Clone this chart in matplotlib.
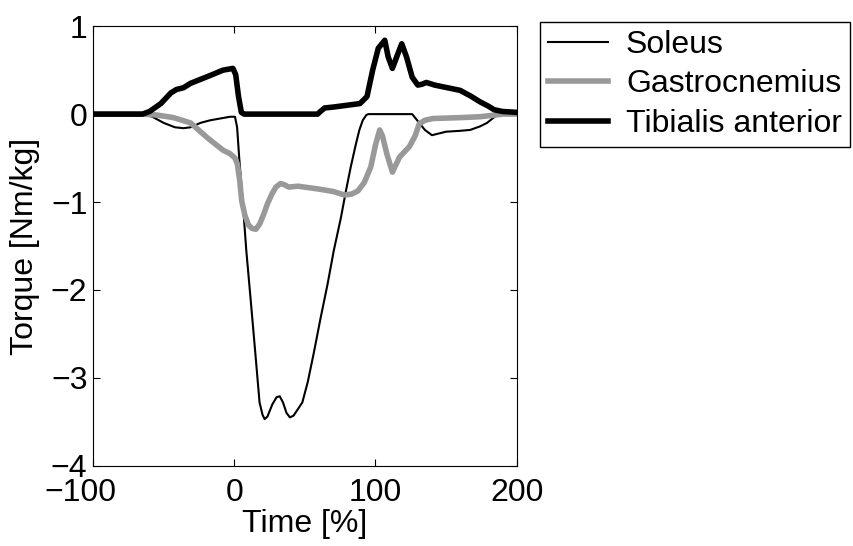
import matplotlib
matplotlib.use("Agg")
import matplotlib.pyplot as plt
import matplotlib.transforms as mtransforms

plt.rcParams["font.family"] = ["Liberation Sans", "DejaVu Sans"]
plt.rcParams["font.size"] = 23

# Soleus (thin black)
sol_t = [-100, -65, -58, -50, -42, -36, -31, -24, -17, -10, -3, 0.5, 2, 3.5, 5.9, 8.5, 11.6, 14.8,
         17.9, 20, 21.5, 23.5, 27, 30, 32.2, 34.5, 37, 39.4, 42, 48.2, 52, 56.4, 61, 66, 70.5, 75.5,
         79, 82.5, 86, 88.6, 91, 93.5, 95, 110, 126, 130, 135, 140, 150, 160, 167, 174, 179, 186, 190, 200]
sol_v = [0, 0, -0.03, -0.1, -0.15, -0.16, -0.15, -0.1, -0.07, -0.05, -0.03, -0.03, -0.15, -0.5, -0.98, -1.55, -2.11, -2.7,
         -3.28, -3.42, -3.47, -3.44, -3.3, -3.22, -3.21, -3.28, -3.4, -3.45, -3.43, -3.28, -3.05, -2.71, -2.33, -1.94, -1.55, -1.18,
         -0.88, -0.6, -0.35, -0.18, -0.07, -0.01, 0, 0, 0, -0.08, -0.18, -0.24, -0.2, -0.19, -0.18, -0.14, -0.1, -0.01, 0, 0]

# Gastrocnemius (grey)
gas_t = [-100, -65, -55, -43, -31, -19, -8, -3, 0.5, 2.2, 3.8, 5.3, 7.5, 10, 12.5, 15.3, 18, 20.8, 23.5, 26.6,
         29.5, 32.7, 35, 38.6, 45, 58.8, 70, 78, 83, 87.5, 92, 96.7, 100, 103, 105, 108, 112, 117, 124, 128, 131, 135,
         140.6, 160, 174, 185, 190, 200]
gas_v = [0, 0, -0.01, -0.04, -0.1, -0.27, -0.41, -0.45, -0.5, -0.57, -0.75, -0.99, -1.15, -1.26, -1.3, -1.31, -1.25, -1.14, -1.02, -0.91,
         -0.83, -0.79, -0.8, -0.83, -0.82, -0.85, -0.88, -0.92, -0.91, -0.875, -0.78, -0.6, -0.35, -0.18, -0.25, -0.45, -0.66, -0.49, -0.37, -0.25, -0.11, -0.07,
         -0.05, -0.04, -0.03, -0.01, 0, 0]

# Tibialis anterior (thick black)
ta_t = [-100, -65, -60, -52, -45, -41, -36, -31, -17, -8, -1, 1, 3, 5, 7, 59, 61, 64, 70, 89, 94, 98,
        102, 106.6, 109, 112, 115, 118.6, 122, 126, 130, 133, 136, 142, 160, 168, 174, 180, 184, 190, 200]
ta_v = [0, 0, 0.03, 0.12, 0.24, 0.28, 0.3, 0.35, 0.44, 0.5, 0.52, 0.45, 0.2, 0.02, 0, 0, 0.03, 0.07, 0.08, 0.12, 0.2, 0.5,
        0.75, 0.84, 0.65, 0.52, 0.65, 0.8, 0.65, 0.42, 0.33, 0.34, 0.36, 0.33, 0.27, 0.2, 0.14, 0.09, 0.05, 0.03, 0.02]

fig = plt.figure(figsize=(8.54, 5.46), dpi=100)
ax = fig.add_axes([0.109, 0.147, 0.496, 0.805])

ax.plot(sol_t, sol_v, color="black", lw=1.5, label="Soleus")
ax.plot(gas_t, gas_v, color="#999999", lw=4, label="Gastrocnemius")
ax.plot(ta_t, ta_v, color="black", lw=4, label="Tibialis anterior")

ax.set_xlim(-100, 200)
ax.set_ylim(-4, 1)
ax.set_xticks([-100, 0, 100, 200])
ax.set_yticks([-4, -3, -2, -1, 0, 1])
ax.tick_params(direction="in", top=True, right=True, length=5, width=0.8)
ax.tick_params(axis="x", pad=9)
ax.tick_params(axis="y", pad=4)
ax.set_xlabel("Time [%]")
ax.set_ylabel("Torque [Nm/kg]")
ax.xaxis.set_label_coords(0.5, -0.098)
ax.yaxis.set_label_coords(-0.125, 0.5)

# minus sign hangs to the left of the centred number, as in the original
lbl = ax.get_xticklabels()[0]
lbl.set_transform(lbl.get_transform() + mtransforms.ScaledTranslation(-9 / 72, 0, fig.dpi_scale_trans))

fig.legend(loc="upper left", bbox_to_anchor=(0.632, 0.960), frameon=True, fancybox=False,
           edgecolor="black", framealpha=1, handlelength=1.9, borderpad=0.25,
           labelspacing=0.3, handletextpad=0.55, borderaxespad=0)

fig.savefig("out.png", dpi=100)
